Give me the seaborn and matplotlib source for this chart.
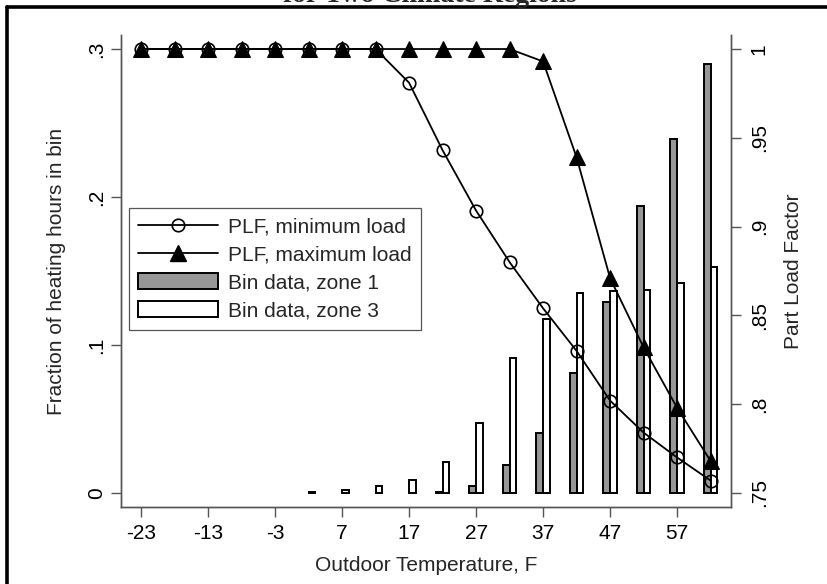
import numpy as np
import pandas as pd
import matplotlib
matplotlib.use("Agg")
import matplotlib.pyplot as plt
import seaborn as sns
from matplotlib.lines import Line2D
from matplotlib.patches import Patch

# outdoor temperature bins (F)
temps = [-23, -18, -13, -8, -3, 2, 7, 12, 17, 22, 27, 32, 37, 42, 47, 52, 57, 62]
# part load factor curves (right axis)
plf_min = [1, 1, 1, 1, 1, 1, 1, 1,
           0.981, 0.943, 0.909, 0.880, 0.854, 0.830, 0.802, 0.784, 0.770, 0.757]
plf_max = [1, 1, 1, 1, 1, 1, 1, 1, 1, 1, 1, 1,
           0.993, 0.939, 0.871, 0.832, 0.798, 0.768]
# fraction of heating hours in each bin (left axis)
bin_zone1 = [0, 0, 0, 0, 0, 0, 0, 0, 0, 0.001, 0.005, 0.019, 0.0405,
             0.081, 0.129, 0.194, 0.239, 0.290]
bin_zone3 = [0, 0, 0, 0, 0, 0.0008, 0.002, 0.005, 0.009, 0.021, 0.047,
             0.0915, 0.1175, 0.135, 0.1365, 0.1375, 0.142, 0.153]

x_ticks = [-23, -13, -3, 7, 17, 27, 37, 47, 57]
left_ticks = [0, 0.1, 0.2, 0.3]
left_labels = ["0", ".1", ".2", ".3"]
right_ticks = [0.75, 0.8, 0.85, 0.9, 0.95, 1.0]
right_labels = [".75", ".8", ".85", ".9", ".95", "1"]

GRAY = "#979797"
AXCOL = "#555555"
FS = 15

sns.set_theme(style="white")
plt.rcParams["font.family"] = ["Liberation Sans", "DejaVu Sans"]

W, H = 827, 584
fig = plt.figure(figsize=(W / 100, H / 100), dpi=100)
ax = fig.add_axes([121 / W, 1 - 507 / H, 610 / W, 472 / H])

bins = pd.DataFrame({
    "temp": temps * 2,
    "frac": bin_zone1 + bin_zone3,
    "zone": ["zone 1"] * len(temps) + ["zone 3"] * len(temps),
})
bins = bins[bins["frac"] > 0]
sns.barplot(data=bins, x="temp", y="frac", hue="zone",
            hue_order=["zone 1", "zone 3"],
            palette={"zone 1": GRAY, "zone 3": "white"},
            native_scale=True, width=0.4, dodge=True, saturation=1,
            errorbar=None, edgecolor="black", linewidth=1.4,
            legend=False, ax=ax)

ax2 = ax.twinx()
sns.lineplot(x=temps, y=plf_min, ax=ax2, color="black", linewidth=1.3,
             marker="o", markersize=9, markerfacecolor="none",
             markeredgecolor="black", markeredgewidth=1.2)
sns.lineplot(x=temps, y=plf_max, ax=ax2, color="black", linewidth=1.3,
             marker="^", markersize=11, markerfacecolor="black",
             markeredgecolor="black")

ax.set_xlim(-26, 65.05)
ax.set_ylim(-0.00946, 0.3095)
ax2.set_ylim(0.7421, 1.0079)

ax.set_xticks(x_ticks)
ax.set_xticklabels([str(t) for t in x_ticks])
ax.set_yticks(left_ticks)
ax.set_yticklabels(left_labels, rotation=90, va="center")
ax2.set_yticks(right_ticks)
ax2.set_yticklabels(right_labels, rotation=90, va="center")

for a in (ax, ax2):
    a.spines["top"].set_visible(False)
    for s in ("left", "right", "bottom"):
        a.spines[s].set_color(AXCOL)
        a.spines[s].set_linewidth(1.0)
    a.tick_params(direction="out", length=7.5, width=1.0, color=AXCOL,
                  labelsize=FS, labelcolor="black", pad=4)
ax.tick_params(axis="y", left=True, pad=3)
ax.tick_params(axis="x", bottom=True, pad=5)
ax2.tick_params(axis="y", right=True, pad=6)

ax.set_xlabel("Outdoor Temperature, F", fontsize=FS)
ax.set_ylabel("Fraction of heating hours in bin", fontsize=FS)
ax2.set_ylabel("Part Load Factor", fontsize=FS)
ax.xaxis.set_label_coords(0.5, -0.1229)
ax.xaxis.label.set_va("center")
ax.yaxis.set_label_coords(-0.105, 0.5)
ax.yaxis.label.set_va("center")
ax2.yaxis.set_label_coords(1.103, 0.5)
ax2.yaxis.label.set_va("center")
ax2.yaxis.label.set_rotation(90)

handles = [
    Line2D([], [], color="black", lw=1.3, marker="o", ms=9, mfc="none",
           mec="black", mew=1.2, label="PLF, minimum load"),
    Line2D([], [], color="black", lw=1.3, marker="^", ms=11, mfc="black",
           mec="black", label="PLF, maximum load"),
    Patch(facecolor=GRAY, edgecolor="black", lw=1.4, label="Bin data, zone 1"),
    Patch(facecolor="white", edgecolor="black", lw=1.4, label="Bin data, zone 3"),
]
leg = ax2.legend(handles=handles, loc="upper left",
                 bbox_to_anchor=(129 / W, 1 - 208 / H),
                 bbox_transform=fig.transFigure, borderaxespad=0,
                 frameon=True, fancybox=False, edgecolor=AXCOL, framealpha=1,
                 handlelength=3.8, handleheight=0.75, handletextpad=0.5,
                 labelspacing=0.43, borderpad=0.45, fontsize=FS)
leg.get_frame().set_linewidth(0.9)

# outer graph frame and clipped title from the page above
fig.add_artist(Line2D([7 / W, 7 / W], [0, 1 - 7 / H], transform=fig.transFigure,
                      color="black", lw=2.6))
fig.add_artist(Line2D([7 / W, 1], [1 - 7 / H, 1 - 7 / H], transform=fig.transFigure,
                      color="black", lw=2.6))
fig.text(430 / W, 1 - 2 / H, "for Two Climate Regions", ha="center",
         va="baseline", fontsize=20, fontweight="bold",
         family=["Liberation Serif", "DejaVu Serif"])

fig.savefig("out.png", dpi=100)
